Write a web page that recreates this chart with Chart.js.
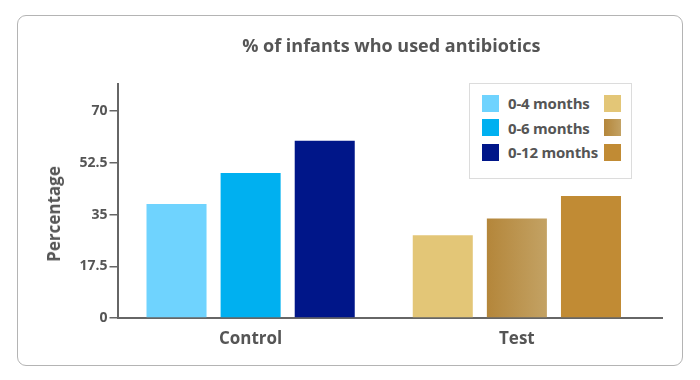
<!DOCTYPE html>
<html>
<head>
<meta charset="utf-8">
<script src="https://cdn.jsdelivr.net/npm/chart.js@4/dist/chart.umd.min.js"></script>
<style>
  html, body { margin: 0; padding: 0; background: #ffffff; }
  body { width: 700px; height: 380px; position: relative; overflow: hidden; font-family: "Open Sans", sans-serif; }
  #card { position: absolute; left: 17px; top: 15px; width: 664px; height: 349px; border: 1px solid #b4b4b4; border-radius: 9px; background: #fff; }
  #wrap { position: absolute; left: 0; top: 0; width: 700px; height: 380px; }
  #title { position: absolute; top: 35px; left: 0; font: bold 18px "Open Sans"; line-height: 20px; color: #555; white-space: nowrap; transform: translateX(-50%); }
  #ytitle { position: absolute; left: 54px; top: 214px; font: bold 17px "Open Sans"; line-height: 20px; color: #555; white-space: nowrap; transform: translate(-50%, -50%) rotate(-90deg); }
  #legend { position: absolute; left: 469px; top: 83px; width: 161px; height: 87px; border: 1px solid #dcdcdc; background: #fff; padding-top: 7px; box-sizing: content-box; }
  .row { display: flex; align-items: center; height: 24.5px; }
  .sw { width: 17px; height: 17px; box-sizing: border-box; }
  .sw.l { margin-left: 12px; }
  .lbl { margin-left: 9px; flex: 1; font: bold 15px "Open Sans"; color: #555; white-space: nowrap; letter-spacing: -0.2px; }
  .sw.r { margin-right: 10px; }
</style>
</head>
<body>
<div id="card"></div>
<div id="wrap"><canvas id="c" width="700" height="380"></canvas></div>
<div id="title"></div>
<div id="ytitle"></div>
<div id="legend"></div>
<script>
const chartTitle = '% of infants who used antibiotics';
const categories = ['Control', 'Test'];
const seriesLabels = ['0-4 months', '0-6 months', '0-12 months'];
const values04 = [38.6, 28.0];
const values06 = [49.1, 33.7];
const values012 = [60.0, 41.3];
const yTicks = [0, 17.5, 35, 52.5, 70];
const yMax = 79.2;
const yTitle = 'Percentage';
const blueColors = ['#6fd3fe', '#00b0f0', '#001689'];
const goldColors = ['#e3c677', ['#b4863a', '#c3a264'], '#c18b34'];

const CAT_PCT = 0.835, BAR_PCT = 0.81;
const AXIS_EXTRA = 13;

function goldFill(ctx, si) {
  const g = goldColors[si];
  if (!Array.isArray(g)) return g;
  const chart = ctx.chart;
  const xs = chart.scales.x;
  if (!xs || !chart.chartArea) return g[0];
  const catW = (xs.right - xs.left) / categories.length;
  const slot = catW * CAT_PCT / seriesLabels.length;
  const cx = xs.getPixelForValue(1) + (si - (seriesLabels.length - 1) / 2) * slot;
  const bw = slot * BAR_PCT;
  const grad = chart.ctx.createLinearGradient(cx - bw / 2, 0, cx + bw / 2, 0);
  grad.addColorStop(0, g[0]);
  grad.addColorStop(1, g[1]);
  return grad;
}

const seriesValues = [values04, values06, values012];
const datasets = seriesLabels.map((lab, si) => ({
  label: lab,
  data: seriesValues[si],
  backgroundColor: (ctx) => ctx.dataIndex === 0 ? blueColors[si] : goldFill(ctx, si),
  borderWidth: 0,
  categoryPercentage: CAT_PCT,
  barPercentage: BAR_PCT
}));

// HTML legend built from the arrays
const legendEl = document.getElementById('legend');
seriesLabels.forEach((lab, si) => {
  const row = document.createElement('div'); row.className = 'row';
  const a = document.createElement('div'); a.className = 'sw l'; a.style.background = blueColors[si];
  const t = document.createElement('div'); t.className = 'lbl'; t.textContent = lab;
  const b = document.createElement('div'); b.className = 'sw r';
  const g = goldColors[si];
  b.style.background = Array.isArray(g) ? `linear-gradient(to right, ${g[0]}, ${g[1]})` : g;
  row.appendChild(a); row.appendChild(t); row.appendChild(b);
  legendEl.appendChild(row);
});
document.getElementById('title').textContent = chartTitle;
document.getElementById('ytitle').textContent = yTitle;

const extras = {
  id: 'extras',
  afterLayout(chart) {
    const ca = chart.chartArea;
    document.getElementById('title').style.left = ((ca.left + ca.right + AXIS_EXTRA) / 2 + 1) + 'px';
  },
  afterDraw(chart) {
    const ca = chart.chartArea, c = chart.ctx;
    c.save();
    c.strokeStyle = '#666';
    c.lineWidth = 2;
    c.beginPath();
    c.moveTo(ca.right - 1, ca.bottom);
    c.lineTo(ca.right + AXIS_EXTRA, ca.bottom);
    c.stroke();
    c.restore();
  }
};

new Chart(document.getElementById('c'), {
  type: 'bar',
  data: { labels: categories, datasets },
  options: {
    responsive: false,
    animation: false,
    layout: { padding: { left: 43, right: 50, top: 84, bottom: 32 } },
    plugins: { legend: { display: false }, title: { display: false }, tooltip: { enabled: false } },
    scales: {
      x: {
        grid: { display: false },
        border: { display: true, color: '#666', width: 2 },
        ticks: { font: { family: 'Open Sans', size: 17, weight: 'bold' }, color: '#555', padding: 3 },
        afterFit(s) { s.height = 30; }
      },
      y: {
        min: 0, max: yMax,
        afterBuildTicks(s) { s.ticks = yTicks.map(v => ({ value: v })); },
        grid: { drawOnChartArea: false, drawTicks: true, tickLength: 8, color: '#666', lineWidth: 1.5 },
        border: { display: true, color: '#666', width: 2 },
        ticks: { font: { family: 'Open Sans', size: 14, weight: 'bold' }, color: '#555', padding: 2, callback: v => String(v) },
        title: { display: false },
        afterFit(s) { s.width = 74.5; }
      }
    }
  },
  plugins: [extras]
});
</script>
</body>
</html>
